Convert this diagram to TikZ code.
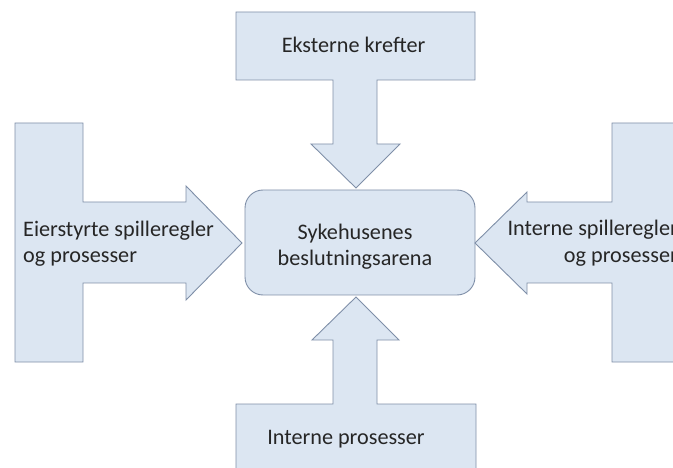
\documentclass[tikz,border=0pt]{standalone}
\usepackage{fontspec}
\setmainfont{Carlito}
\definecolor{panelfill}{HTML}{DCE6F2}
\definecolor{paneledge}{HTML}{7F8FA8}
\begin{document}
\begin{tikzpicture}[x=1pt,y=-1pt,
  panel/.style={fill=panelfill,draw=paneledge,line width=0.9pt,line join=miter},
  lbl/.style={font=\fontsize{22.2}{26}\selectfont,text=black!85,inner sep=0pt}]
\useasboundingbox (0,0) rectangle (673,468);
\clip (0,0) rectangle (673,468);

% central decision arena
\node[panel,rounded corners=18pt,minimum width=230pt,minimum height=105pt,inner sep=0pt] (arena) at (360,242.5) {};
\node[lbl,align=center] (arenatext) at (355,247) {Sykehusenes\\beslutningsarena};

% top callout pointing down
\draw[panel] (236,12) -- (475,12) -- (475,80) -- (377,80) -- (377,144) -- (400,144)
  -- (356,188) -- (311,144) -- (333,144) -- (333,80) -- (236,80) -- cycle;
\node[lbl,anchor=base] (ext) at (353.5,53) {Eksterne krefter};

% bottom callout pointing up
\draw[panel] (236,404) -- (333,404) -- (333,340) -- (312,340) -- (356,297) -- (399,340)
  -- (377,340) -- (377,404) -- (476,404) -- (476,480) -- (236,480) -- cycle;
\node[lbl,anchor=base] (intproc) at (346,444) {Interne prosesser};

% left callout pointing right
\draw[panel] (15,123) -- (83,123) -- (83,202) -- (186,202) -- (186,186) -- (242,243)
  -- (186,300) -- (186,283) -- (83,283) -- (83,362) -- (15,362) -- cycle;
\node[lbl,anchor=base west] (owner) at (23,237) {Eierstyrte spilleregler};
\node[lbl,anchor=base west] (owner2) at (23,263) {og prosesser};

% right callout pointing left, running past the right edge
\draw[panel] (475,243) -- (527,192) -- (527,202) -- (612,202) -- (612,123) -- (680,123)
  -- (680,362) -- (612,362) -- (612,283) -- (527,283) -- (527,294) -- cycle;
\node[lbl,anchor=base east] (intrules) at (678,236) {Interne spilleregler};
\node[lbl,anchor=base east] (intrules2) at (678,262) {og prosesser};
\end{tikzpicture}
\end{document}
